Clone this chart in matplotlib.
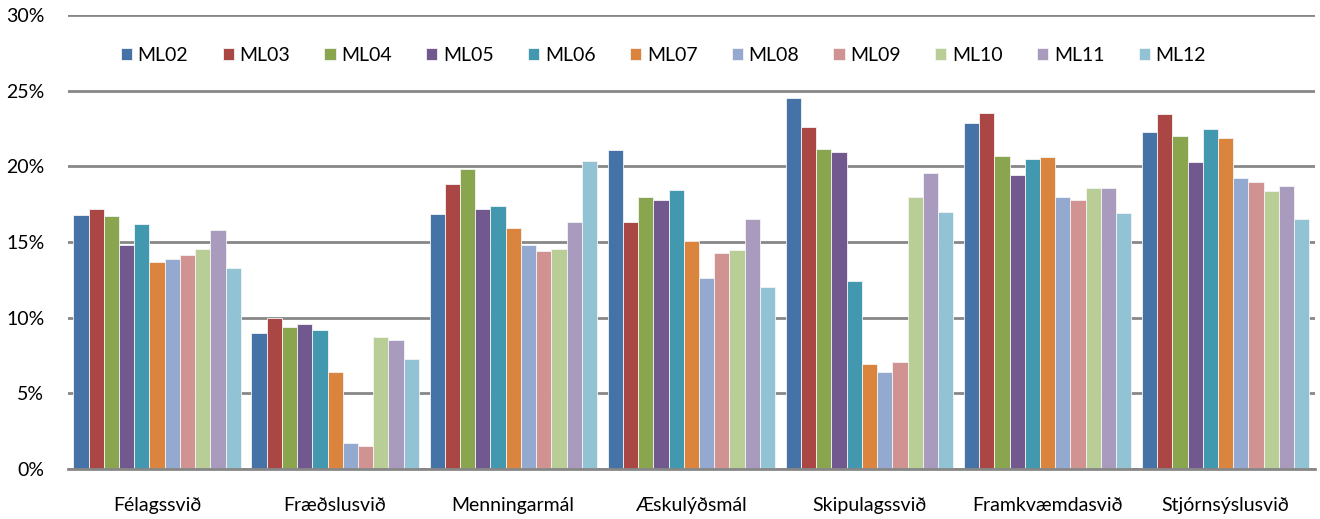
import matplotlib.pyplot as plt
import numpy as np
from matplotlib.ticker import PercentFormatter

plt.rcParams['font.family'] = ['Lato', 'DejaVu Sans']

categories = ['Félagssvið', 'Fræðslusvið', 'Menningarmál', 'Æskulýðsmál',
              'Skipulagssvið', 'Framkvæmdasvið', 'Stjórnsýslusvið']
series = ['ML02', 'ML03', 'ML04', 'ML05', 'ML06', 'ML07',
          'ML08', 'ML09', 'ML10', 'ML11', 'ML12']

# values in percent, one list per category (series order ML02..ML12)
felags = [16.8, 17.2, 16.7, 14.8, 16.2, 13.65, 13.9, 14.15, 14.55, 15.8, 13.3]
fraedslu = [9.0, 10.0, 9.4, 9.6, 9.2, 6.4, 1.7, 1.5, 8.7, 8.55, 7.3]
menning = [16.85, 18.85, 19.8, 17.2, 17.35, 15.9, 14.8, 14.4, 14.55, 16.3, 20.35]
aeskulyds = [21.1, 16.3, 17.95, 17.75, 18.45, 15.05, 12.6, 14.3, 14.45, 16.5, 12.0]
skipulags = [24.55, 22.6, 21.15, 20.95, 12.4, 6.95, 6.4, 7.05, 17.95, 19.55, 17.0]
framkv = [22.85, 23.5, 20.7, 19.45, 20.5, 20.65, 17.95, 17.8, 18.55, 18.6, 16.9]
stjorns = [22.3, 23.45, 22.0, 20.3, 22.45, 21.9, 19.2, 19.0, 18.4, 18.7, 16.55]

colors = ['#4572A7', '#AA4643', '#89A54E', '#71588F', '#4198AF', '#DB843D',
          '#93A9CF', '#D19392', '#B9CD96', '#A99BBD', '#92C3D4']

values = np.array([felags, fraedslu, menning, aeskulyds, skipulags, framkv, stjorns])

fig = plt.figure(figsize=(13.2, 5.19), dpi=100)
ax = fig.add_axes([0.0515, 0.0963, 0.9445, 0.8747])

x = np.arange(len(categories))
n = len(series)
w = 0.94 / n
for j in range(n):
    ax.bar(x - 0.47 + w * (j + 0.5), values[:, j], width=w, color=colors[j],
           edgecolor='#f4f4f4', linewidth=0.6, label=series[j], zorder=3)

ax.set_xlim(-0.5, len(categories) - 0.5)
ax.set_ylim(0, 30)
ax.set_yticks(np.arange(0, 31, 5))
ax.yaxis.set_major_formatter(PercentFormatter(decimals=0))
ax.grid(axis='y', color='#878787', linewidth=2, zorder=1)
ax.set_axisbelow(False)
for s in ['left', 'right', 'top']:
    ax.spines[s].set_visible(False)
ax.spines['bottom'].set_color('#878787')
ax.spines['bottom'].set_linewidth(2)
ax.spines['bottom'].set_zorder(4)
ax.tick_params(axis='y', length=0, pad=17, labelsize=14)
ax.tick_params(axis='x', length=0, pad=20, labelsize=14)
ax.set_xticks(x)
ax.set_xticklabels(categories)

ax.legend(loc='center', bbox_to_anchor=(0.4776, 0.911), ncol=n, frameon=False,
          fontsize=14, handlelength=0.57, handleheight=0.57, handletextpad=0.3,
          columnspacing=1.76, borderaxespad=0)

fig.savefig('out.png', dpi=100)
